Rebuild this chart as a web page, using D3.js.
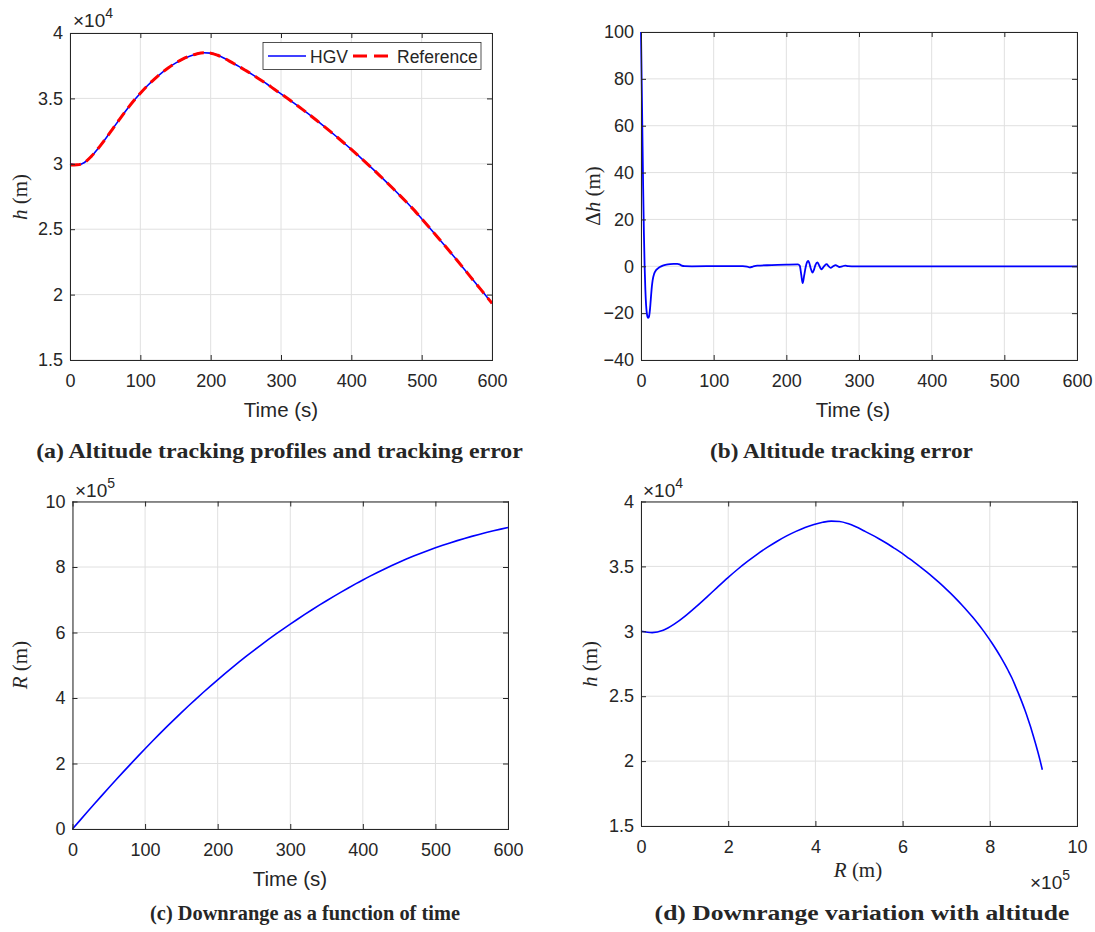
<!DOCTYPE html>
<html>
<head>
<meta charset="utf-8">
<script src="https://cdn.jsdelivr.net/npm/d3@7"></script>
<style>
  body { margin: 0; background: #fff; }
  svg { display: block; }
  text { font-family: "Liberation Sans", Arial, Helvetica, sans-serif; fill: #262626; }
</style>
</head>
<body>
<svg id="fig" width="1095" height="932"></svg>
<script>
// ---- flight data (time in s, lengths in m) ----
const timeS = [0,10,20,30,40,50,60,70,80,90,100,110,120,130,140,150,160,170,180,190,200,
  210,220,230,240,250,260,270,280,290,300,310,320,330,340,350,360,370,380,390,400,
  410,420,430,440,450,460,470,480,490,500,510,520,530,540,550,560,570,580,590,600];

const hgvAltitudeM = [30000,29900,30080,30550,31170,31880,32620,33370,34100,34780,35400,
  35970,36480,36940,37350,37700,38000,38230,38400,38490,38460,38300,38050,37750,37450,
  37130,36800,36450,36100,35720,35350,34970,34580,34180,33770,33350,32920,32480,32030,
  31570,31100,30620,30130,29630,29120,28600,28070,27530,26980,26420,25800,25180,24560,
  23930,23290,22640,21980,21320,20660,20000,19330];

const refAltitudeM = [29900,29920,30080,30550,31170,31880,32620,33370,34100,34780,35400,
  35970,36480,36940,37350,37700,38000,38230,38400,38490,38460,38300,38050,37750,37450,
  37130,36800,36450,36100,35720,35350,34970,34580,34180,33770,33350,32920,32480,32030,
  31570,31100,30620,30130,29630,29120,28600,28070,27530,26980,26420,25800,25180,24560,
  23930,23290,22640,21980,21320,20660,20000,19330];

const downrangeM = [0,25600,51000,76200,101200,125900,150300,174400,198200,221800,245000,
  267800,290300,312400,334100,355400,376300,396800,416800,436400,455600,474400,492800,
  510800,528400,545600,562400,578800,594800,610400,625600,640500,655100,669400,683400,
  697000,710300,723300,736000,748400,760500,772100,783300,794100,804500,814500,824100,
  833300,842100,850500,858500,866200,873500,880500,887200,893500,899500,905200,910600,
  915700,920500];

// altitude tracking error, sampled more densely where it moves
const errTimeS = [0,1,2,3,4,5,6,7,8,9,10,11,12,13,14,15,16,18,20,23,26,30,35,40,45,50,53,56,60,
  70,100,140,146,150,154,160,180,200,216,218.5,220.5,222.5,224.5,226.5,228.5,230,231.5,233.5,
  236,238,240,242.7,245,247,248.6,250.5,253,255.5,258,261,264,268,270.5,273,277,281,285,290,300,600];
const errAltM = [100,78,55,33,14,0,-10,-16.5,-20,-21.6,-22,-21.5,-19.5,-16,-12,-8.5,-6,-3.3,-2,-1,-0.3,
  0.3,0.7,0.9,1.0,1.0,0.8,0.3,0.05,0,0.05,0.05,-0.1,-0.5,-0.1,0.3,0.5,0.7,0.8,0.2,-3.5,-7.2,-4,
  -0.5,1.8,2.3,1.5,-0.8,-2.7,-1.5,0.5,1.7,0.5,-0.8,-1.3,-0.6,0.4,0.9,0.1,-0.7,-0.1,0.5,0.1,-0.3,
  0,0.3,0.05,0,0,0];

// ---- tick values ----
const timeTicks = [0,100,200,300,400,500,600];
const altTicks = [15000,20000,25000,30000,35000,40000];
const errTicks = [-40,-20,0,20,40,60,80,100];
const rangeTicks = [0,200000,400000,600000,800000,1000000];

const AXIS = "#262626";
const GRID = "#e0e0e0";
const BLUE = "#0000ff";
const RED = "#ff0000";
const SERIF = '"Liberation Serif", "Times New Roman", serif';

const svg = d3.select("#fig");

function panel(o) {
  const g = svg.append("g");
  const x = d3.scaleLinear().domain(o.xDomain).range([o.x0, o.x1]);
  const y = d3.scaleLinear().domain(o.yDomain).range([o.y1, o.y0]);

  // grid
  g.append("g").selectAll("line").data(o.xTicks).join("line")
    .attr("x1", d => x(d)).attr("x2", d => x(d))
    .attr("y1", o.y0).attr("y2", o.y1)
    .attr("stroke", GRID).attr("stroke-width", 1);
  g.append("g").selectAll("line").data(o.yTicks).join("line")
    .attr("y1", d => y(d)).attr("y2", d => y(d))
    .attr("x1", o.x0).attr("x2", o.x1)
    .attr("stroke", GRID).attr("stroke-width", 1);

  const style = sel => {
    sel.select(".domain").attr("stroke", AXIS).attr("stroke-width", 1);
    sel.selectAll(".tick line").attr("stroke", AXIS);
    sel.selectAll(".tick text").attr("fill", AXIS).style("font-size", "18px")
      .style("font-family", '"Liberation Sans", Arial, sans-serif');
  };

  const marks = g.append("g");

  const axes = g.append("g");
  axes.append("g").attr("transform", `translate(0,${o.y1})`)
    .call(d3.axisBottom(x).tickValues(o.xTicks).tickFormat(o.xFmt)
      .tickSizeInner(-5).tickSizeOuter(0).tickPadding(14)).call(style);
  axes.append("g").attr("transform", `translate(0,${o.y0})`)
    .call(d3.axisTop(x).tickValues(o.xTicks).tickFormat("")
      .tickSizeInner(-5).tickSizeOuter(0)).call(style);
  axes.append("g").attr("transform", `translate(${o.x0},0)`)
    .call(d3.axisLeft(y).tickValues(o.yTicks).tickFormat(o.yFmt)
      .tickSizeInner(-5).tickSizeOuter(0).tickPadding(7)).call(style);
  axes.append("g").attr("transform", `translate(${o.x1},0)`)
    .call(d3.axisRight(y).tickValues(o.yTicks).tickFormat("")
      .tickSizeInner(-5).tickSizeOuter(0)).call(style);
  axes.selectAll(".domain").attr("stroke-linecap", "square");

  return { x, y, marks, g };
}

function exponent(x, y, power) {
  const t = svg.append("text").attr("x", x).attr("y", y).style("font-size", "19px");
  t.append("tspan").text("\u00d710");
  t.append("tspan").attr("dy", -9).style("font-size", "14px").text(power);
}

function ylabel(x, y, parts) {
  const t = svg.append("text")
    .attr("transform", `translate(${x},${y}) rotate(-90)`)
    .attr("text-anchor", "middle")
    .style("font-family", SERIF)
    .style("font-size", "21px");
  parts.forEach(p => t.append("tspan").style("font-style", p.italic ? "italic" : "normal").text(p.s));
}

function xlabelTime(x, y) {
  svg.append("text").attr("x", x).attr("y", y).attr("text-anchor", "middle")
    .style("font-size", "20.5px").text("Time (s)");
}

// bold sub-figure caption, stretched horizontally to the given width
function caption(cx, y, width, s) {
  const t = svg.append("text").attr("x", 0).attr("y", 0).attr("text-anchor", "middle")
    .style("font-family", SERIF)
    .style("font-weight", "bold").style("font-size", "22px").text(s);
  const len = t.node().getComputedTextLength();
  t.attr("transform", `translate(${cx},${y}) scale(${width / len},1)`);
}

const fmtE4 = d => d3.format("~g")(d / 1e4);
const fmtE5 = d => d3.format("~g")(d / 1e5);

// ---- (a) altitude profiles ----
{
  const p = panel({ x0: 70, x1: 492, y0: 33, y1: 360,
    xDomain: [0, 600], yDomain: [15000, 40000],
    xTicks: timeTicks, yTicks: altTicks, xFmt: d3.format("d"), yFmt: fmtE4 });
  const hgvLine = d3.line().x((d, i) => p.x(timeS[i])).y(d => p.y(d)).curve(d3.curveMonotoneX);
  p.marks.append("path").datum(hgvAltitudeM).attr("d", hgvLine)
    .attr("fill", "none").attr("stroke", BLUE).attr("stroke-width", 1.6);
  p.marks.append("path").datum(refAltitudeM).attr("d", hgvLine)
    .attr("fill", "none").attr("stroke", RED).attr("stroke-width", 3)
    .attr("stroke-dasharray", "11,6");

  // legend
  const lg = p.g.append("g");
  lg.append("rect").attr("x", 263).attr("y", 42.5).attr("width", 218).attr("height", 27)
    .attr("fill", "#fff").attr("stroke", AXIS).attr("stroke-width", 0.8);
  lg.append("line").attr("x1", 268).attr("x2", 306).attr("y1", 56).attr("y2", 56)
    .attr("stroke", BLUE).attr("stroke-width", 1.6);
  lg.append("text").attr("x", 310).attr("y", 62.5).style("font-size", "17.5px").text("HGV");
  lg.append("line").attr("x1", 353).attr("x2", 388).attr("y1", 56).attr("y2", 56)
    .attr("stroke", RED).attr("stroke-width", 3).attr("stroke-dasharray", "14,7");
  lg.append("text").attr("x", 397).attr("y", 62.5).style("font-size", "17.5px").text("Reference");

  exponent(73, 27, "4");
  ylabel(27, 197, [{ s: "h", italic: true }, { s: " (m)" }]);
  xlabelTime(281, 417);
  caption(279.5, 458, 487, "(a) Altitude tracking profiles and tracking error");
}

// ---- (b) tracking error ----
{
  const p = panel({ x0: 641, x1: 1077, y0: 32, y1: 360,
    xDomain: [0, 600], yDomain: [-40, 100],
    xTicks: timeTicks, yTicks: errTicks, xFmt: d3.format("d"), yFmt: d3.format("d") });
  const errLine = d3.line().x((d, i) => p.x(errTimeS[i])).y(d => p.y(d)).curve(d3.curveMonotoneX);
  p.marks.append("path").datum(errAltM).attr("d", errLine)
    .attr("fill", "none").attr("stroke", BLUE).attr("stroke-width", 1.8);
  ylabel(600, 196, [{ s: "\u0394" }, { s: "h", italic: true }, { s: " (m)" }]);
  xlabelTime(853, 417);
  caption(841.5, 458, 263, "(b) Altitude tracking error");
}

// ---- (c) downrange vs time ----
{
  const p = panel({ x0: 72.5, x1: 508, y0: 501.5, y1: 829,
    xDomain: [0, 600], yDomain: [0, 1000000],
    xTicks: timeTicks, yTicks: rangeTicks, xFmt: d3.format("d"), yFmt: fmtE5 });
  const rLine = d3.line().x((d, i) => p.x(timeS[i])).y(d => p.y(d)).curve(d3.curveMonotoneX);
  p.marks.append("path").datum(downrangeM).attr("d", rLine)
    .attr("fill", "none").attr("stroke", BLUE).attr("stroke-width", 1.6);
  exponent(75, 496.5, "5");
  ylabel(27, 665, [{ s: "R", italic: true }, { s: " (m)" }]);
  xlabelTime(290, 886);
  caption(305, 920, 310, "(c) Downrange as a function of time");
}

// ---- (d) altitude vs downrange ----
{
  const p = panel({ x0: 641, x1: 1077, y0: 501.5, y1: 826,
    xDomain: [0, 1000000], yDomain: [15000, 40000],
    xTicks: rangeTicks, yTicks: altTicks, xFmt: fmtE5, yFmt: fmtE4 });
  const hrLine = d3.line().x((d, i) => p.x(downrangeM[i])).y(d => p.y(d)).curve(d3.curveMonotoneX);
  p.marks.append("path").datum(hgvAltitudeM).attr("d", hrLine)
    .attr("fill", "none").attr("stroke", BLUE).attr("stroke-width", 1.6);
  exponent(643, 496.5, "4");
  exponent(1030, 889, "5");
  ylabel(597, 664, [{ s: "h", italic: true }, { s: " (m)" }]);
  const xl = svg.append("text").attr("x", 858).attr("y", 877).attr("text-anchor", "middle")
    .style("font-family", SERIF).style("font-size", "21px");
  xl.append("tspan").style("font-style", "italic").text("R");
  xl.append("tspan").text(" (m)");
  caption(862, 920, 415, "(d) Downrange variation with altitude");
}
</script>
</body>
</html>
